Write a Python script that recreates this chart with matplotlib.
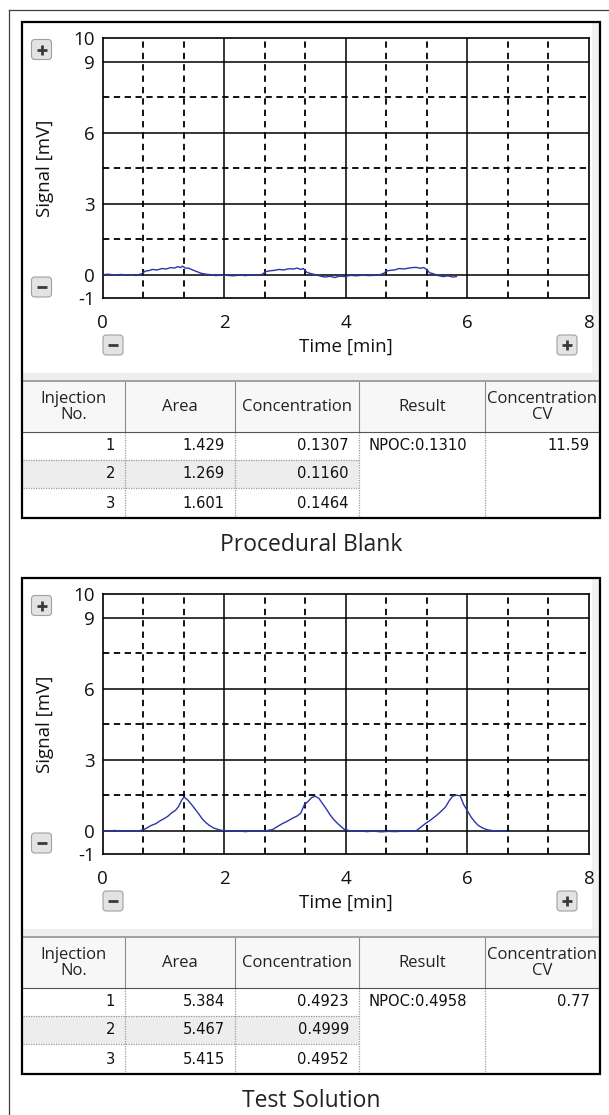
import matplotlib.pyplot as plt
from matplotlib.patches import Rectangle, FancyBboxPatch

# ---- data ----
blank_time = [0.00, 0.10, 0.20, 0.30, 0.40, 0.48, 0.55, 0.62, 0.66, 0.70,
              0.76, 0.82, 0.90, 0.98, 1.05, 1.12, 1.18, 1.24, 1.28, 1.32,
              1.36, 1.42, 1.50, 1.56, 1.62, 1.70, 1.78, 1.86, 1.95, 2.05,
              2.15, 2.25, 2.35, 2.45, 2.55, 2.63, 2.68, 2.74, 2.82, 2.90,
              2.98, 3.06, 3.14, 3.20, 3.26, 3.30, 3.36, 3.42, 3.50, 3.58,
              3.66, 3.74, 3.82, 3.90, 3.98, 4.08, 4.18, 4.28, 4.38, 4.48,
              4.56, 4.62, 4.67, 4.72, 4.80, 4.88, 4.96, 5.04, 5.10, 5.16,
              5.22, 5.28, 5.33, 5.38, 5.45, 5.52, 5.60, 5.68, 5.76, 5.82]
blank_signal = [0.00, 0.02, -0.02, 0.01, -0.03, 0.00, -0.04, 0.02, 0.05, 0.15,
                0.17, 0.22, 0.20, 0.26, 0.24, 0.30, 0.28, 0.34, 0.30, 0.36,
                0.28, 0.27, 0.18, 0.12, 0.06, 0.02, 0.00, -0.04, -0.02, -0.03,
                -0.05, -0.02, -0.04, -0.01, -0.03, 0.02, 0.12, 0.16, 0.18, 0.22,
                0.20, 0.25, 0.24, 0.28, 0.22, 0.26, 0.10, 0.05, 0.00, -0.06,
                -0.10, -0.07, -0.12, -0.06, -0.08, -0.03, -0.05, -0.02, -0.04, -0.03,
                0.00, 0.05, 0.15, 0.18, 0.20, 0.26, 0.24, 0.28, 0.30, 0.31,
                0.27, 0.30, 0.22, 0.08, 0.03, -0.04, -0.08, -0.05, -0.10, -0.08]

test_time = [0.00, 0.10, 0.20, 0.30, 0.40, 0.50, 0.58, 0.65, 0.72, 0.80,
             0.88, 0.95, 1.02, 1.08, 1.14, 1.20, 1.25, 1.30, 1.34, 1.40,
             1.46, 1.52, 1.58, 1.64, 1.70, 1.76, 1.82, 1.90, 1.98, 2.10,
             2.22, 2.34, 2.46, 2.58, 2.70, 2.80, 2.88, 2.96, 3.04, 3.12,
             3.20, 3.26, 3.32, 3.38, 3.44, 3.50, 3.56, 3.62, 3.68, 3.74,
             3.80, 3.86, 3.92, 3.98, 4.10, 4.22, 4.34, 4.46, 4.58, 4.70,
             4.82, 4.94, 5.06, 5.16, 5.24, 5.32, 5.40, 5.48, 5.56, 5.64,
             5.70, 5.76, 5.82, 5.88, 5.94, 6.00, 6.06, 6.12, 6.18, 6.26,
             6.34, 6.42, 6.50, 6.58, 6.64]
test_signal = [0.00, -0.02, 0.01, -0.03, 0.00, -0.02, -0.01, 0.02, 0.10, 0.22,
               0.30, 0.42, 0.52, 0.62, 0.76, 0.86, 1.02, 1.28, 1.42, 1.30,
               1.12, 0.92, 0.72, 0.50, 0.34, 0.22, 0.12, 0.05, 0.00, -0.02,
               0.00, -0.04, -0.02, -0.03, 0.00, 0.05, 0.18, 0.30, 0.40, 0.52,
               0.62, 0.74, 1.10, 1.24, 1.40, 1.46, 1.36, 1.14, 0.92, 0.68,
               0.48, 0.32, 0.18, 0.05, -0.02, 0.00, -0.04, -0.02, -0.05, -0.03,
               -0.04, -0.02, -0.03, 0.00, 0.16, 0.32, 0.46, 0.62, 0.80, 1.00,
               1.26, 1.46, 1.50, 1.48, 1.10, 0.84, 0.58, 0.38, 0.22, 0.10,
               0.03, 0.00, -0.02, 0.00, -0.03]

table_header = ["Injection\nNo.", "Area", "Concentration", "Result", "Concentration\nCV"]
injection_no = [1, 2, 3]
blank_area = ["1.429", "1.269", "1.601"]
blank_conc = ["0.1307", "0.1160", "0.1464"]
blank_result = "NPOC:0.1310"
blank_cv = "11.59"
test_area = ["5.384", "5.467", "5.415"]
test_conc = ["0.4923", "0.4999", "0.4952"]
test_result = "NPOC:0.4958"
test_cv = "0.77"

x_ticks = [0, 2, 4, 6, 8]
y_ticks = [-1, 0, 3, 6, 9, 10]
solid_x = [2, 4, 6]
dashed_x = [2/3, 4/3, 8/3, 10/3, 14/3, 16/3, 20/3, 22/3]
solid_y = [0, 3, 6, 9]
dashed_y = [1.5, 4.5, 7.5]

# ---- layout (pixels) ----
W, H = 609, 1115
col_x = [23, 125, 235, 359, 485, 600]
plt.rcParams['font.family'] = ['Open Sans', 'DejaVu Sans']
plt.rcParams['axes.unicode_minus'] = False
num_font = dict(family='DejaVu Sans', stretch='condensed',
                fontsize=11.8, color='#111111')


def fig_rect(x0, y0, x1, y1):
    return [x0 / W, 1 - y1 / H, (x1 - x0) / W, (y1 - y0) / H]


fig = plt.figure(figsize=(W / 100, H / 100), dpi=100)
bg = fig.add_axes([0, 0, 1, 1], zorder=0)
bg.set_xlim(0, W)
bg.set_ylim(H, 0)
bg.axis('off')

# outer frame (only top and left visible)
bg.plot([9, W], [10, 10], color='#4a3a3a', lw=0.9)
bg.plot([9, 9], [10, H], color='#4a3a3a', lw=0.9)


def button(x, y, plus):
    bg.add_patch(FancyBboxPatch((x - 10, y - 10), 20, 20,
                                boxstyle='round,pad=0,rounding_size=3.5',
                                fc='#e3e3e3', ec='#a0a0a0', lw=0.8, zorder=3))
    bg.plot([x - 5, x + 5], [y, y], color='#3a3a3a', lw=2, zorder=4,
            solid_capstyle='butt')
    if plus:
        bg.plot([x, x], [y - 5, y + 5], color='#3a3a3a', lw=2, zorder=4,
                solid_capstyle='butt')


def panel(off, time, signal, area, conc, result, cv, caption):
    # panel box, separator strip and table backgrounds
    bg.add_patch(Rectangle((23, 373 + off), 577, 8, fc='#eeeeee', ec='none'))
    bg.plot([23, 600], [381 + off, 381 + off], color='#9a9a9a', lw=1.3)
    bg.add_patch(Rectangle((592, 23 + off), 7, 350, fc='#f2f2f2', ec='none'))
    bg.add_patch(Rectangle((23, 382 + off), 577, 50, fc='#f7f7f7', ec='none'))
    bg.add_patch(Rectangle((23, 460 + off), col_x[3] - 23, 28, fc='#ededed', ec='none'))
    bg.add_patch(Rectangle((22, 22 + off), 578, 496, fill=False, ec='black', lw=1.6, zorder=5))

    # table grid
    for cx in col_x[1:-1]:
        bg.plot([cx, cx], [382 + off, 432 + off], color='#8c8c8c', lw=0.8)
        bg.plot([cx, cx], [432 + off, 518 + off], color='#9a9a9a', lw=0.9, ls=(0, (1, 1)))
    bg.plot([23, 600], [432 + off, 432 + off], color='#555555', lw=0.8)
    for ry in [460, 488]:
        bg.plot([23, col_x[3]], [ry + off, ry + off], color='#9a9a9a', lw=0.9, ls=(0, (1, 1)))

    for i, label in enumerate(table_header):
        bg.text((col_x[i] + col_x[i + 1]) / 2, 407 + off, label, ha='center', va='center',
                fontsize=12, color='#222222', linespacing=1.0)

    row_y = [446, 474, 503]
    for r in range(len(injection_no)):
        y = row_y[r] + off
        for c, val in enumerate([str(injection_no[r]), area[r], conc[r]]):
            bg.text(col_x[c + 1] - 10, y, val, ha='right', va='center', **num_font)
    bg.text(col_x[3] + 10, row_y[0] + off, result, ha='left', va='center', **num_font)
    bg.text(col_x[5] - 10, row_y[0] + off, cv, ha='right', va='center', **num_font)

    bg.text(311, 545 + off, caption, ha='center', va='center', fontsize=16.5, color='#222222')

    # buttons
    button(41.5, 49.5 + off, True)
    button(41.5, 287 + off, False)
    button(113, 345 + off, False)
    button(567, 345 + off, True)

    # chromatogram
    top, bottom, left, right = 38.3 + off, 298.3 + off, 102.5, 589
    ax = fig.add_axes(fig_rect(left, top, right, bottom), zorder=2)
    ax.set_xlim(0, 8)
    ax.set_ylim(-1, 10)
    for v in solid_x:
        ax.axvline(v, color='black', lw=1.1, zorder=1)
    for v in dashed_x:
        ax.axvline(v, color='black', lw=1.3, ls=(0, (3.5, 2.8)), zorder=1)
    for v in solid_y:
        ax.axhline(v, color='black', lw=1.1, zorder=1)
    for v in dashed_y:
        ax.axhline(v, color='black', lw=1.3, ls=(0, (3.5, 2.5)), zorder=1)
    ax.plot(time, signal, color='#2a36a8', lw=1.0, zorder=3)
    ax.set_xticks(x_ticks)
    ax.set_yticks(y_ticks)
    ax.tick_params(length=0, labelsize=13.5, colors='#111111')
    ax.tick_params(axis='x', pad=11)
    ax.tick_params(axis='y', pad=5.5)
    for s in ax.spines.values():
        s.set_linewidth(1.2)
    ax.set_xlabel('Time [min]', fontsize=13.5, color='#111111', va='center')
    ax.xaxis.set_label_coords(0.5, (bottom - (347 + off)) / (bottom - top))
    ax.set_ylabel('Signal [mV]', fontsize=13.5, color='#111111', va='center')
    ax.yaxis.set_label_coords((45 - left) / (right - left), (bottom - (168 + off)) / (bottom - top))


panel(0, blank_time, blank_signal, blank_area, blank_conc, blank_result, blank_cv,
      'Procedural Blank')
panel(556, test_time, test_signal, test_area, test_conc, test_result, test_cv,
      'Test Solution')

fig.savefig('out.png', dpi=100)
